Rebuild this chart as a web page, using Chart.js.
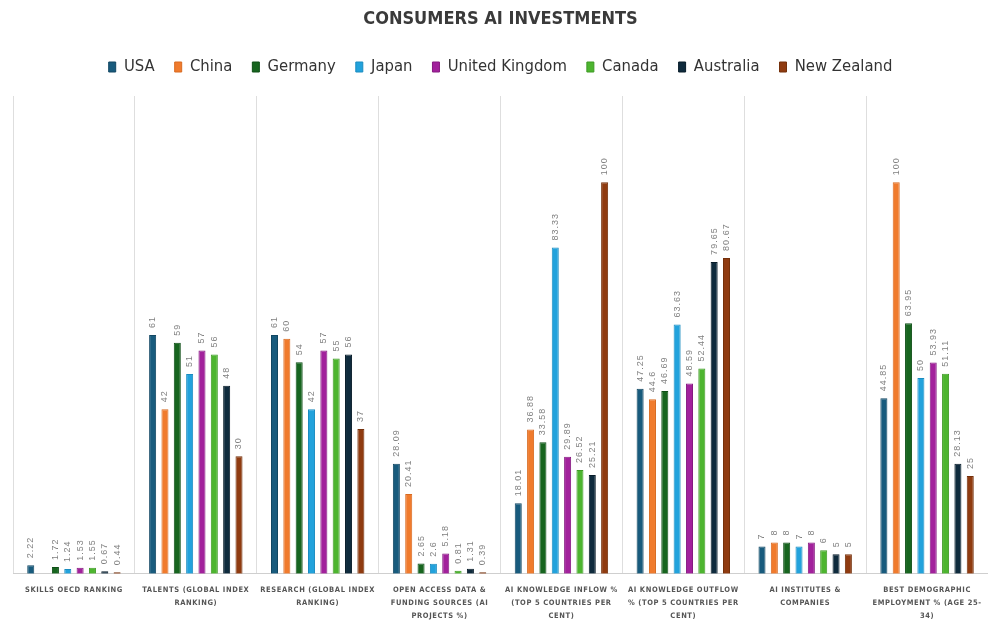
<!DOCTYPE html>
<html>
<head>
<meta charset="utf-8">
<script src="https://cdn.jsdelivr.net/npm/chart.js@4"></script>
<style>
  html, body { margin: 0; padding: 0; background: #fff; }
  #wrap { width: 988px; height: 622px; }
</style>
</head>
<body>
<div id="wrap"><canvas id="chart"></canvas></div>
<script>
// Category labels (multi-line, as in the picture)
const categories = [
    ['SKILLS OECD RANKING'],
    ['TALENTS (GLOBAL INDEX', 'RANKING)'],
    ['RESEARCH (GLOBAL INDEX', 'RANKING)'],
    ['OPEN ACCESS DATA &', 'FUNDING SOURCES (AI', 'PROJECTS %)'],
    ['AI KNOWLEDGE INFLOW %', '(TOP 5 COUNTRIES PER', 'CENT)'],
    ['AI KNOWLEDGE OUTFLOW', '% (TOP 5 COUNTRIES PER', 'CENT)'],
    ['AI INSTITUTES &', 'COMPANIES'],
    ['BEST DEMOGRAPHIC', 'EMPLOYMENT % (AGE 25-', '34)']
];

// One array per country, same order as the categories
const usa = [2.22, 61, 61, 28.09, 18.01, 47.25, 7, 44.85];
const china = [null, 42, 60, 20.41, 36.88, 44.6, 8, 100];
const germany = [1.72, 59, 54, 2.65, 33.58, 46.69, 8, 63.95];
const japan = [1.24, 51, 42, 2.6, 83.33, 63.63, 7, 50];
const uk = [1.53, 57, 57, 5.18, 29.89, 48.59, 8, 53.93];
const canada = [1.55, 56, 55, 0.81, 26.52, 52.44, 6, 51.11];
const australia = [0.67, 48, 56, 1.31, 25.21, 79.65, 5, 28.13];
const newZealand = [0.44, 30, 37, 0.39, 100, 80.67, 5, 25];

const CONDENSED = '"DejaVu Sans Condensed", "DejaVu Sans", sans-serif';

function series(label, data, color, edge) {
    return {
        label: label,
        data: data,
        backgroundColor: color,
        borderColor: edge,
        borderWidth: 1,
        categoryPercentage: 0.81,
        barPercentage: 0.57
    };
}

// value labels, rotated, above each bar
const barLabels = {
    id: 'barLabels',
    afterDatasetsDraw(chart) {
        const ctx = chart.ctx;
        ctx.save();
        ctx.font = '9px "Liberation Sans", Arial, sans-serif';
        ctx.letterSpacing = '1px';
        ctx.fillStyle = '#808080';
        ctx.textAlign = 'left';
        ctx.textBaseline = 'middle';
        chart.data.datasets.forEach((ds, i) => {
            chart.getDatasetMeta(i).data.forEach((bar, j) => {
                const v = ds.data[j];
                if (v == null) return;
                ctx.save();
                ctx.translate(bar.x, bar.y - 7);
                ctx.rotate(-Math.PI / 2);
                ctx.fillText(String(v), 0, 0);
                ctx.restore();
            });
        });
        ctx.restore();
    }
};

// spaced-out letters for the category labels
const tracking = {
    id: 'tracking',
    beforeDraw(chart) {
        const x = chart.scales.x;
        if (x._tracked) return;
        const draw = x.drawLabels;
        x.drawLabels = function (area) {
            this.ctx.save();
            this.ctx.letterSpacing = '0.6px';
            draw.call(this, area);
            this.ctx.restore();
        };
        x._tracked = true;
    }
};

new Chart(document.getElementById('chart'), {
    type: 'bar',
    data: {
        labels: categories,
        datasets: [
            series('USA', usa, '#185b7d', '#124763'),
            series('China', china, '#f07b2d', '#d86a20'),
            series('Germany', germany, '#17651f', '#0f4f17'),
            series('Japan', japan, '#22a2dc', '#1a8cc0'),
            series('United Kingdom', uk, '#a2219c', '#861a81'),
            series('Canada', canada, '#4db52f', '#3e9a24'),
            series('Australia', australia, '#0f2b3d', '#081c29'),
            series('New Zealand', newZealand, '#8f3b10', '#74300b')
        ]
    },
    options: {
        responsive: true,
        maintainAspectRatio: false,
        animation: false,
        // the x axis reserves its tick padding twice; pull the plot back down
        layout: { padding: { left: 13, right: 0, top: 0, bottom: -10 } },
        plugins: {
            title: {
                display: true,
                text: 'CONSUMERS AI INVESTMENTS',
                color: '#3a3a3a',
                font: { family: CONDENSED, size: 18, weight: 'bold', lineHeight: 1 },
                padding: { top: 10.5, bottom: 10.25 }
            },
            legend: {
                position: 'top',
                labels: {
                    color: '#333',
                    font: { family: CONDENSED, size: 16.5 },
                    boxWidth: 7,
                    boxHeight: 10,
                    padding: 20
                }
            },
            // spacer between the legend and the plot
            subtitle: {
                display: true,
                text: '',
                weight: 500,
                font: { size: 1, lineHeight: 1 },
                padding: { top: 9.75, bottom: 0 }
            },
            tooltip: { enabled: false }
        },
        scales: {
            x: {
                grid: { color: '#dedede', drawTicks: false },
                border: { color: '#cfcfcf' },
                ticks: {
                    color: '#555',
                    font: { family: CONDENSED, size: 7.5, weight: 'bold', lineHeight: 1.74 },
                    padding: 9.5,
                    maxRotation: 0,
                    autoSkip: false
                }
            },
            y: {
                display: false,
                min: 0,
                max: 122
            }
        }
    },
    plugins: [barLabels, tracking]
});
</script>
</body>
</html>
